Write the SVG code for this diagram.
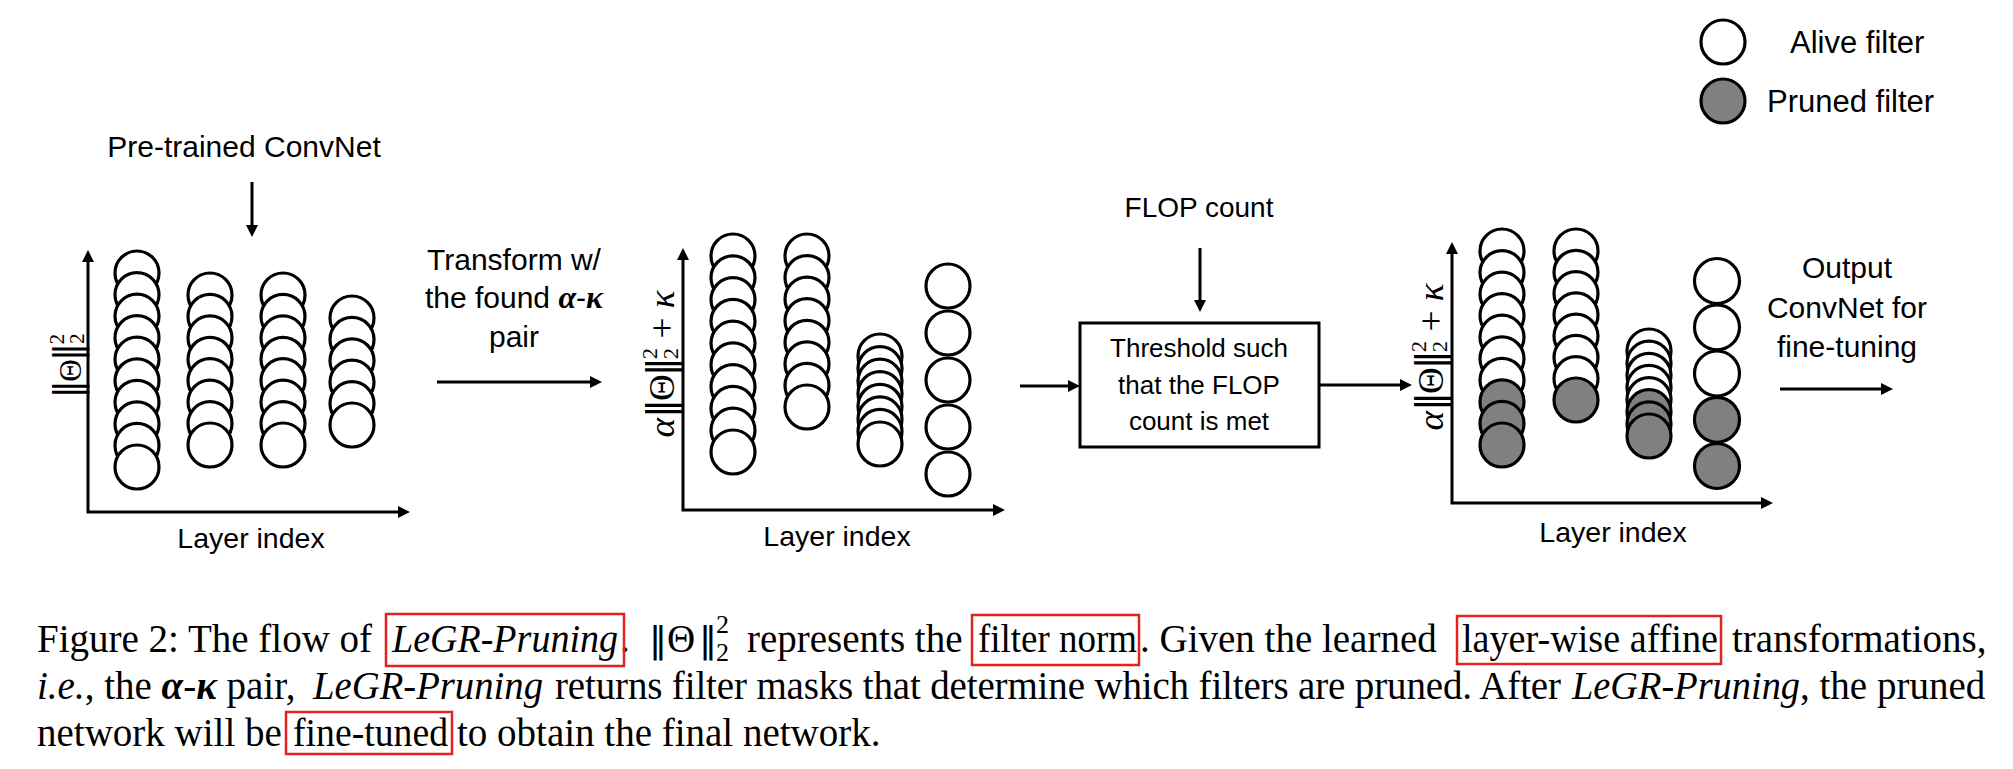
<svg xmlns="http://www.w3.org/2000/svg" width="2013" height="769" viewBox="0 0 2013 769">
<style>
.lbl{font-family:"Liberation Sans",Arial,sans-serif;fill:#000}
.math{font-family:"Liberation Serif","DejaVu Serif",serif;fill:#000}
.bar{font-family:"DejaVu Sans",sans-serif}
.cap{font-family:"Liberation Serif","DejaVu Serif",serif;font-size:39px;fill:#000}
.it{font-style:italic}
.bi{font-style:italic;font-weight:bold}
circle.a{fill:#fff;stroke:#000;stroke-width:3.2}
circle.p{fill:#808080;stroke:#000;stroke-width:3.2}
.ln{fill:none;stroke:#000;stroke-width:3}
.rb{fill:none;stroke:#e32222;stroke-width:2.5}
</style>
<defs>
<marker id="ah" markerWidth="12" markerHeight="12" refX="2" refY="6" orient="auto-start-reverse" markerUnits="userSpaceOnUse"><path d="M0,0 L12,6 L0,12 z" fill="#000"/></marker>
</defs>

<g id="legend">
<circle class="a" cx="1723" cy="42" r="22"/>
<text class="lbl" x="1790" y="53" font-size="31">Alive filter</text>
<circle class="p" cx="1723" cy="101" r="22"/>
<text class="lbl" x="1767" y="112" font-size="31">Pruned filter</text>
</g>

<g id="pretrained-label">
<text class="lbl" x="244" y="157" font-size="30" text-anchor="middle">Pre-trained ConvNet</text>
</g>

<g id="chart1">
<text class="math" transform="translate(81,366) rotate(-90)" text-anchor="middle" font-size="31" textLength="65" lengthAdjust="spacingAndGlyphs"><tspan class="bar" font-size="37">‖</tspan><tspan dx="-2">Θ</tspan><tspan class="bar" font-size="37" dx="-2">‖</tspan><tspan font-size="21" dx="-2" dy="-17">2</tspan><tspan font-size="21" dx="-10" dy="20">2</tspan></text>
<circle class="a" cx="137" cy="273" r="22"/><circle class="a" cx="137" cy="294.6" r="22"/><circle class="a" cx="137" cy="316.1" r="22"/><circle class="a" cx="137" cy="337.7" r="22"/><circle class="a" cx="137" cy="359.2" r="22"/><circle class="a" cx="137" cy="380.8" r="22"/><circle class="a" cx="137" cy="402.3" r="22"/><circle class="a" cx="137" cy="423.9" r="22"/><circle class="a" cx="137" cy="445.4" r="22"/><circle class="a" cx="137" cy="467" r="22"/>
<circle class="a" cx="210" cy="295" r="22"/><circle class="a" cx="210" cy="316.4" r="22"/><circle class="a" cx="210" cy="337.9" r="22"/><circle class="a" cx="210" cy="359.3" r="22"/><circle class="a" cx="210" cy="380.7" r="22"/><circle class="a" cx="210" cy="402.1" r="22"/><circle class="a" cx="210" cy="423.6" r="22"/><circle class="a" cx="210" cy="445" r="22"/>
<circle class="a" cx="283" cy="295" r="22"/><circle class="a" cx="283" cy="316.4" r="22"/><circle class="a" cx="283" cy="337.9" r="22"/><circle class="a" cx="283" cy="359.3" r="22"/><circle class="a" cx="283" cy="380.7" r="22"/><circle class="a" cx="283" cy="402.1" r="22"/><circle class="a" cx="283" cy="423.6" r="22"/><circle class="a" cx="283" cy="445" r="22"/>
<circle class="a" cx="352" cy="318" r="22"/><circle class="a" cx="352" cy="339.4" r="22"/><circle class="a" cx="352" cy="360.8" r="22"/><circle class="a" cx="352" cy="382.2" r="22"/><circle class="a" cx="352" cy="403.6" r="22"/><circle class="a" cx="352" cy="425" r="22"/>
<text class="lbl" x="251" y="548" font-size="28.5" text-anchor="middle">Layer index</text>
</g>

<g id="transform-label">
<text class="lbl" x="514" y="270" font-size="30" text-anchor="middle">Transform w/</text>
<text class="lbl" x="514" y="308" font-size="30" text-anchor="middle">the found <tspan class="math bi" font-size="32">α</tspan>-<tspan class="math bi" font-size="32">κ</tspan></text>
<text class="lbl" x="514" y="347" font-size="30" text-anchor="middle">pair</text>
</g>

<g id="chart2">
<text class="math" transform="translate(674,364) rotate(-90)" text-anchor="middle" font-size="36" textLength="147" lengthAdjust="spacingAndGlyphs"><tspan class="it">α</tspan><tspan class="bar" font-size="37">‖</tspan><tspan dx="-2">Θ</tspan><tspan class="bar" font-size="37" dx="-2">‖</tspan><tspan font-size="22" dx="-2" dy="-17">2</tspan><tspan font-size="22" dx="-11" dy="21">2</tspan><tspan dy="-4"> + </tspan><tspan class="it">κ</tspan></text>
<circle class="a" cx="733" cy="256" r="22"/><circle class="a" cx="733" cy="277.8" r="22"/><circle class="a" cx="733" cy="299.6" r="22"/><circle class="a" cx="733" cy="321.3" r="22"/><circle class="a" cx="733" cy="343.1" r="22"/><circle class="a" cx="733" cy="364.9" r="22"/><circle class="a" cx="733" cy="386.7" r="22"/><circle class="a" cx="733" cy="408.4" r="22"/><circle class="a" cx="733" cy="430.2" r="22"/><circle class="a" cx="733" cy="452" r="22"/>
<circle class="a" cx="807" cy="256" r="22"/><circle class="a" cx="807" cy="277.6" r="22"/><circle class="a" cx="807" cy="299.1" r="22"/><circle class="a" cx="807" cy="320.7" r="22"/><circle class="a" cx="807" cy="342.3" r="22"/><circle class="a" cx="807" cy="363.9" r="22"/><circle class="a" cx="807" cy="385.4" r="22"/><circle class="a" cx="807" cy="407" r="22"/>
<circle class="a" cx="880" cy="356" r="22"/><circle class="a" cx="880" cy="368.6" r="22"/><circle class="a" cx="880" cy="381.1" r="22"/><circle class="a" cx="880" cy="393.7" r="22"/><circle class="a" cx="880" cy="406.3" r="22"/><circle class="a" cx="880" cy="418.9" r="22"/><circle class="a" cx="880" cy="431.4" r="22"/><circle class="a" cx="880" cy="444" r="22"/>
<circle class="a" cx="948" cy="286" r="22"/><circle class="a" cx="948" cy="333" r="22"/><circle class="a" cx="948" cy="380" r="22"/><circle class="a" cx="948" cy="427" r="22"/><circle class="a" cx="948" cy="474" r="22"/>
<text class="lbl" x="837" y="546" font-size="28.5" text-anchor="middle">Layer index</text>
</g>

<g id="flop-label">
<text class="lbl" x="1199" y="217" font-size="28" text-anchor="middle">FLOP count</text>
</g>

<g id="threshold-box">
<rect class="ln" x="1080" y="323" width="239" height="124"/>
<text class="lbl" x="1199" y="357" font-size="26" text-anchor="middle">Threshold such</text>
<text class="lbl" x="1199" y="394" font-size="26" text-anchor="middle">that the FLOP</text>
<text class="lbl" x="1199" y="430" font-size="26" text-anchor="middle">count is met</text>
</g>

<g id="chart3">
<text class="math" transform="translate(1443,357) rotate(-90)" text-anchor="middle" font-size="36" textLength="147" lengthAdjust="spacingAndGlyphs"><tspan class="it">α</tspan><tspan class="bar" font-size="37">‖</tspan><tspan dx="-2">Θ</tspan><tspan class="bar" font-size="37" dx="-2">‖</tspan><tspan font-size="22" dx="-2" dy="-17">2</tspan><tspan font-size="22" dx="-11" dy="21">2</tspan><tspan dy="-4"> + </tspan><tspan class="it">κ</tspan></text>
<circle class="a" cx="1502" cy="251" r="22"/><circle class="a" cx="1502" cy="272.6" r="22"/><circle class="a" cx="1502" cy="294.1" r="22"/><circle class="a" cx="1502" cy="315.7" r="22"/><circle class="a" cx="1502" cy="337.2" r="22"/><circle class="a" cx="1502" cy="358.8" r="22"/><circle class="a" cx="1502" cy="380.3" r="22"/><circle class="p" cx="1502" cy="401.9" r="22"/><circle class="p" cx="1502" cy="423.4" r="22"/><circle class="p" cx="1502" cy="445" r="22"/>
<circle class="a" cx="1576" cy="251" r="22"/><circle class="a" cx="1576" cy="272.3" r="22"/><circle class="a" cx="1576" cy="293.6" r="22"/><circle class="a" cx="1576" cy="314.9" r="22"/><circle class="a" cx="1576" cy="336.1" r="22"/><circle class="a" cx="1576" cy="357.4" r="22"/><circle class="a" cx="1576" cy="378.7" r="22"/><circle class="p" cx="1576" cy="400" r="22"/>
<circle class="a" cx="1649" cy="351" r="22"/><circle class="a" cx="1649" cy="363.1" r="22"/><circle class="a" cx="1649" cy="375.3" r="22"/><circle class="a" cx="1649" cy="387.4" r="22"/><circle class="a" cx="1649" cy="399.6" r="22"/><circle class="p" cx="1649" cy="411.7" r="22"/><circle class="p" cx="1649" cy="423.9" r="22"/><circle class="p" cx="1649" cy="436" r="22"/>
<circle class="a" cx="1717" cy="281" r="22.5"/><circle class="a" cx="1717" cy="327.3" r="22.5"/><circle class="a" cx="1717" cy="373.5" r="22.5"/><circle class="p" cx="1717" cy="419.8" r="22.5"/><circle class="p" cx="1717" cy="466" r="22.5"/>
<text class="lbl" x="1613" y="542" font-size="28.5" text-anchor="middle">Layer index</text>
</g>

<g id="output-label">
<text class="lbl" x="1847" y="278" font-size="30" text-anchor="middle">Output</text>
<text class="lbl" x="1847" y="318" font-size="30" text-anchor="middle">ConvNet for</text>
<text class="lbl" x="1847" y="357" font-size="30" text-anchor="middle">fine-tuning</text>
</g>

<g id="connectors">
<line class="ln" x1="252" y1="182" x2="252" y2="227" marker-end="url(#ah)"/>
<path class="ln" d="M88,260 L88,512 L400,512" marker-start="url(#ah)" marker-end="url(#ah)"/>
<line class="ln" x1="437" y1="382" x2="592" y2="382" marker-end="url(#ah)"/>
<path class="ln" d="M683,258 L683,510 L995,510" marker-start="url(#ah)" marker-end="url(#ah)"/>
<line class="ln" x1="1020" y1="386" x2="1070" y2="386" marker-end="url(#ah)"/>
<line class="ln" x1="1200" y1="248" x2="1200" y2="302" marker-end="url(#ah)"/>
<line class="ln" x1="1319" y1="385" x2="1402" y2="385" marker-end="url(#ah)"/>
<path class="ln" d="M1452,252 L1452,503 L1763,503" marker-start="url(#ah)" marker-end="url(#ah)"/>
<line class="ln" x1="1780" y1="389" x2="1883" y2="389" marker-end="url(#ah)"/>
</g>

<g id="caption">
<text class="cap" x="37" y="652">Figure 2: The flow of</text>
<text class="cap it" x="392" y="652" textLength="226" lengthAdjust="spacingAndGlyphs">LeGR-Pruning</text>
<text class="cap" x="620" y="652">.</text>
<text class="cap" y="652"><tspan class="bar" x="649" font-size="36">‖</tspan><tspan x="667">Θ</tspan><tspan class="bar" x="699" font-size="36">‖</tspan><tspan x="716" font-size="26" dy="-19">2</tspan><tspan x="716" font-size="26" dy="28">2</tspan></text>
<text class="cap" x="747" y="652">represents the</text>
<text class="cap" x="978" y="652" textLength="159" lengthAdjust="spacingAndGlyphs">filter norm</text>
<text class="cap" x="1140" y="652">. Given the learned</text>
<text class="cap" x="1462" y="652" textLength="256" lengthAdjust="spacingAndGlyphs">layer-wise affine</text>
<text class="cap" x="1732" y="652">transformations,</text>

<text class="cap" x="37" y="699"><tspan class="it">i.e.</tspan>, the <tspan class="bi">α</tspan>-<tspan class="bi">κ</tspan> pair,</text>
<text class="cap it" x="313" y="699" textLength="230" lengthAdjust="spacingAndGlyphs">LeGR-Pruning</text>
<text class="cap" x="555" y="699" textLength="1006" lengthAdjust="spacing">returns filter masks that determine which filters are pruned. After</text>
<text class="cap it" x="1572" y="699" textLength="228" lengthAdjust="spacingAndGlyphs">LeGR-Pruning</text>
<text class="cap" x="1800" y="699">, the pruned</text>

<text class="cap" x="37" y="746">network will be</text>
<text class="cap" x="293" y="746" textLength="155" lengthAdjust="spacingAndGlyphs">fine-tuned</text>
<text class="cap" x="457" y="746">to obtain the final network.</text>

<rect class="rb" x="386" y="614" width="238" height="52"/>
<rect class="rb" x="972" y="615" width="167" height="50"/>
<rect class="rb" x="1457" y="616" width="264" height="48"/>
<rect class="rb" x="286" y="712" width="166" height="42"/>
</g>
</svg>
